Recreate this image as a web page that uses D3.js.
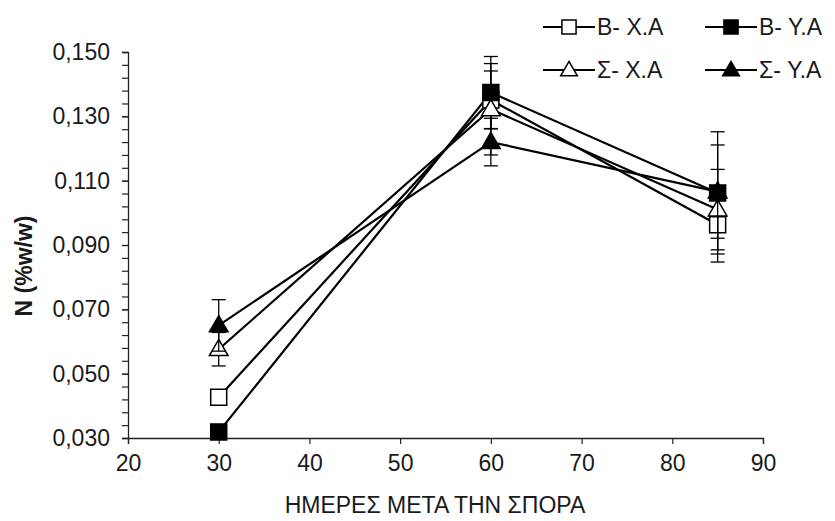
<!DOCTYPE html>
<html><head><meta charset="utf-8">
<script src="https://cdn.jsdelivr.net/npm/d3@7"></script>
<style>
html,body{margin:0;padding:0;background:#fff;}
text{font-family:"Liberation Sans",Arial,sans-serif;fill:#1a1a1a;}
</style></head>
<body>
<svg id="chart" width="835" height="521"></svg>
<script>
const days = [30, 60, 85];
const seriesNames = ["B- X.A", "B- Y.A", "Σ- X.A", "Σ- Y.A"];
const bXA = [0.0427, 0.1351, 0.0963];
const bXAerr = [0.0015, 0.0090, 0.0116];
const bYA = [0.0319, 0.1374, 0.1062];
const bYAerr = [0.0015, 0.0112, 0.0190];
const sXA = [0.0576, 0.1322, 0.1010];
const sXAerr = [0.0052, 0.0142, 0.0125];
const sYA = [0.0650, 0.1220, 0.1066];
const sYAerr = [0.0080, 0.0074, 0.0145];
const xTicks = [20, 30, 40, 50, 60, 70, 80, 90];
const yTicks = [0.030, 0.050, 0.070, 0.090, 0.110, 0.130, 0.150];
const xTitle = "ΗΜΕΡΕΣ ΜΕΤΑ ΤΗΝ ΣΠΟΡΑ";
const yTitle = "N (%w/w)";

const series = [
  {name: seriesNames[0], vals: bXA, err: bXAerr, shape: "square", fill: "#fff"},
  {name: seriesNames[1], vals: bYA, err: bYAerr, shape: "square", fill: "#000"},
  {name: seriesNames[2], vals: sXA, err: sXAerr, shape: "triangle", fill: "#fff"},
  {name: seriesNames[3], vals: sYA, err: sYAerr, shape: "triangle", fill: "#000"}
];

const svg = d3.select("#chart");
const x = d3.scaleLinear().domain([20, 90]).range([128, 763]);
const y = d3.scaleLinear().domain([0.030, 0.150]).range([438, 52]);

// axes
const yAxis = d3.axisLeft(y).tickValues(yTicks)
  .tickFormat(d => d3.format(".3f")(d).replace(".", ",")).tickSize(6).tickPadding(12);
const minorY = d3.range(0, 31).map(i => 0.030 + i * 0.004);
const gyMinor = svg.append("g").attr("transform", "translate(128,0)")
  .call(d3.axisLeft(y).tickValues(minorY).tickSize(6).tickFormat(""));
gyMinor.select(".domain").remove();
gyMinor.selectAll("line").attr("stroke", "#222").attr("stroke-width", 1.2);

const gy = svg.append("g").attr("transform", "translate(128,0)").call(yAxis);
gy.select(".domain").attr("stroke", "#222").attr("stroke-width", 1.3);
gy.selectAll("line").attr("stroke", "#222").attr("stroke-width", 1.2);
gy.selectAll("text").style("font-size", "23px");

const gx = svg.append("g").attr("transform", "translate(0,438)")
  .call(d3.axisBottom(x).tickValues(xTicks).tickSize(6).tickPadding(11).tickFormat(d3.format("d")));
gx.select(".domain").attr("stroke", "#222").attr("stroke-width", 1.3);
gx.selectAll("line").attr("stroke", "#222").attr("stroke-width", 1.2);
gx.selectAll("text").style("font-size", "23px");

svg.append("text").attr("x", 435).attr("y", 513).attr("text-anchor", "middle")
  .style("font-size", "23px").text(xTitle);
svg.append("text").attr("transform", "translate(32,266) rotate(-90)").attr("text-anchor", "middle")
  .style("font-size", "23px").style("font-weight", "bold").text(yTitle);

const sym = {
  square: d3.symbol().type(d3.symbolSquare).size(256),
  triangle: d3.symbol().type(d3.symbolTriangle).size(150)
};
const line = d3.line().x((d, i) => x(days[i])).y(d => y(d));

// lines
series.forEach(s => {
  svg.append("path").datum(s.vals).attr("d", line)
    .attr("fill", "none").attr("stroke", "#000").attr("stroke-width", 2.2);
});
// error bars + markers
series.forEach(s => {
  const g = svg.append("g");
  s.vals.forEach((v, i) => {
    const cx = x(days[i]);
    const top = y(v + s.err[i]), bot = y(v - s.err[i]);
    g.append("line").attr("x1", cx).attr("x2", cx).attr("y1", top).attr("y2", bot)
      .attr("stroke", "#000").attr("stroke-width", 1.3);
    [top, bot].forEach(yy => g.append("line").attr("x1", cx - 7).attr("x2", cx + 7)
      .attr("y1", yy).attr("y2", yy).attr("stroke", "#000").attr("stroke-width", 1.3));
  });
  s.vals.forEach((v, i) => {
    g.append("path").attr("d", sym[s.shape]())
      .attr("transform", `translate(${x(days[i])},${y(v) + (s.shape === "triangle" ? 1 : 0)})`)
      .attr("fill", s.fill).attr("stroke", "#000").attr("stroke-width", 1.5);
  });
});

// legend
const legPos = [[543, 27], [705, 27], [543, 70], [705, 70]];
series.forEach((s, i) => {
  const [lx, ly] = legPos[i];
  const g = svg.append("g");
  g.append("line").attr("x1", lx).attr("x2", lx + 52).attr("y1", ly).attr("y2", ly)
    .attr("stroke", "#000").attr("stroke-width", 2.2);
  g.append("path").attr("d", d3.symbol().type(s.shape === "square" ? d3.symbolSquare : d3.symbolTriangle)
      .size(s.shape === "square" ? 200 : 120)())
    .attr("transform", `translate(${lx + 26},${ly + (s.shape === "triangle" ? 1 : 0)})`)
    .attr("fill", s.fill).attr("stroke", "#000").attr("stroke-width", 1.5);
  g.append("text").attr("x", lx + 54).attr("y", ly + 8).style("font-size", "23px").text(s.name);
});
</script>
</body></html>
